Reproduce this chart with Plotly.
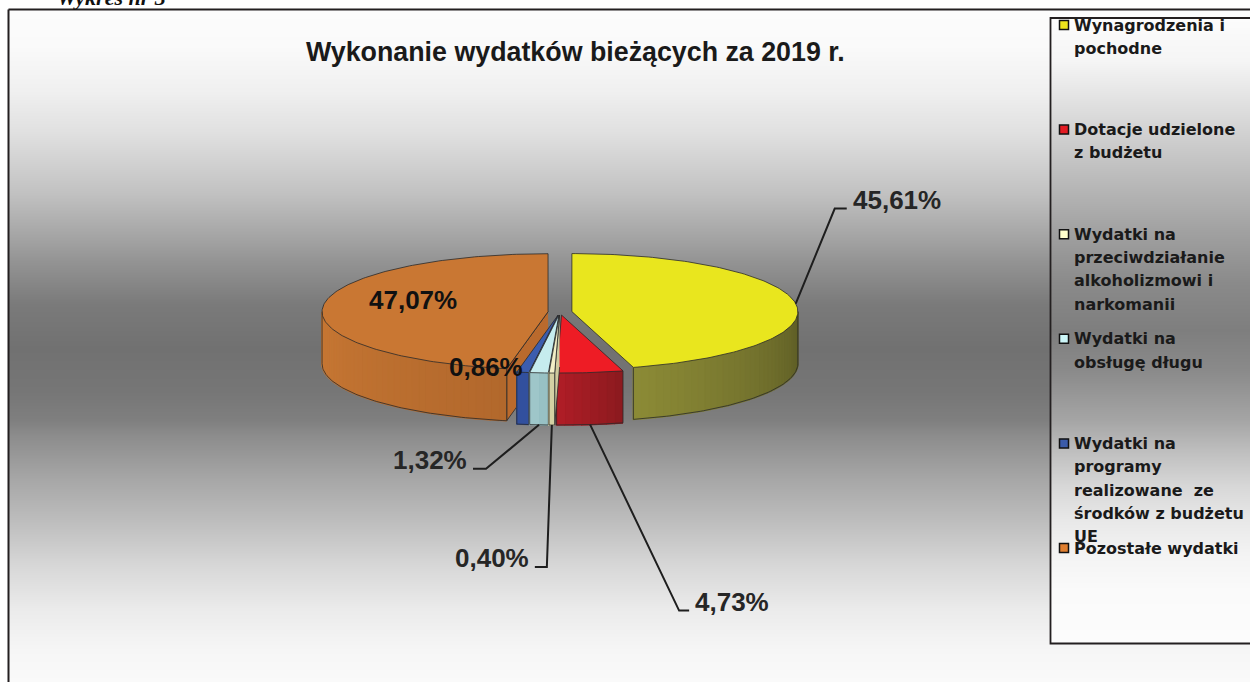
import numpy as np
import plotly.graph_objects as go

# ---------------- data ----------------
categories = [
    "Wynagrodzenia i pochodne",
    "Dotacje udzielone z budżetu",
    "Wydatki na przeciwdziałanie alkoholizmowi i narkomanii",
    "Wydatki na obsługę długu",
    "Wydatki na programy realizowane  ze środków z budżetu UE",
    "Pozostałe wydatki",
]
legend_lines = [
    ["Wynagrodzenia i", "pochodne"],
    ["Dotacje udzielone", "z budżetu"],
    ["Wydatki na", "przeciwdziałanie", "alkoholizmowi i", "narkomanii"],
    ["Wydatki na", "obsługę długu"],
    ["Wydatki na", "programy", "realizowane\u00a0 ze", "środków z budżetu", "UE"],
    ["Pozostałe wydatki"],
]
values = [45.61, 4.73, 0.40, 1.32, 0.86, 47.07]
value_labels = ["45,61%", "4,73%", "0,40%", "1,32%", "0,86%", "47,07%"]
title_text = "Wykonanie wydatków bieżących za 2019 r."

# ---------------- style ----------------
top_colors = ["#E9E61E", "#EE1C25", "#F2EFC6", "#C6ECEE", "#3C5DAE", "#C97733"]
wall_left = ["#8C8B36", "#B01D26", "#D8D5A8", "#A0C8CB", "#3555A5", "#C87834"]
wall_right = ["#5C5B25", "#8B1A1F", "#D0CDA0", "#96BFC2", "#2F4C98", "#B2682C"]
face_colors = ["#6E6D2C", "#9A1B21", "#CFCB9E", "#92BABD", "#2E4A93", "#BA6A2D"]
legend_colors = ["#EDE41C", "#E31B23", "#FFFFCC", "#CCF6F8", "#3B5BA9", "#E07F30"]
outline = "#2A2A2A"

CX, CY, A, B, DEPTH, EXPLODE = 560.0, 312.0, 226.0, 58.0, 52.0, 12.0

bg_y = [10, 45, 90, 130, 165, 195, 243, 260, 304, 348, 391, 420, 435, 478, 522, 565, 609, 650, 682]
bg_g = [252, 250, 240, 225, 208, 192, 160, 148, 122, 113, 118, 127, 140, 166, 190, 215, 235, 246, 250]
lg_y = [18, 60, 100, 167, 233, 283, 330, 370, 420, 453, 487, 520, 553, 590, 643]
lg_g = [252, 245, 226, 192, 160, 138, 126, 138, 165, 192, 216, 232, 243, 250, 252]

# label leader styles: anchor kind, elbow/end offsets (px) relative to anchor
label_style = [
    dict(kind="top", elbow=(39, -95), end=(51, -95), side="right"),
    dict(kind="bottom", elbow=(89, 186), end=(99, 186), side="right"),
    dict(kind="bottom", elbow=(-5, 142), end=(-17, 142), side="left"),
    dict(kind="bottom", elbow=(-53, 44), end=(-66, 44), side="left"),
    dict(kind="inside", frac=1.0, offset=(-37, -5)),
    dict(kind="inside", frac=0.6, offset=(0, -9)),
]

fig = go.Figure()

# ---------------- backgrounds ----------------
gray_scale = [[0, "rgb(0,0,0)"], [1, "rgb(255,255,255)"]]
fig.add_trace(go.Heatmap(x=[0, 1], y=bg_y, z=[[g, g] for g in bg_g], colorscale=gray_scale,
                         zmin=0, zmax=255, zsmooth="best", showscale=False, hoverinfo="skip",
                         xaxis="x", yaxis="y"))
fig.add_trace(go.Heatmap(x=[0, 1], y=lg_y, z=[[g, g] for g in lg_g], colorscale=gray_scale,
                         zmin=0, zmax=255, zsmooth="best", showscale=False, hoverinfo="skip",
                         xaxis="x2", yaxis="y2"))


def hex2rgb(h):
    h = h.lstrip("#")
    return np.array([int(h[i:i + 2], 16) for i in (0, 2, 4)], dtype=float)


def mix(c1, c2, f):
    c = hex2rgb(c1) * (1 - f) + hex2rgb(c2) * f
    return "rgb(%d,%d,%d)" % tuple(np.round(c))


def poly(xs, ys, fill, line_color=None, lw=0.8):
    fig.add_trace(go.Scatter(x=list(xs), y=list(ys), fill="toself", fillcolor=fill, mode="lines",
                             line=dict(color=line_color or fill, width=lw),
                             xaxis="x3", yaxis="y3", hoverinfo="skip", showlegend=False))


def line(xs, ys, color=outline, lw=0.8):
    fig.add_trace(go.Scatter(x=list(xs), y=list(ys), mode="lines", line=dict(color=color, width=lw),
                             xaxis="x3", yaxis="y3", hoverinfo="skip", showlegend=False))


total = sum(values)
ang = np.concatenate([[0], np.cumsum(values) / total * 360.0])
slices = []
for i, v in enumerate(values):
    t0, t1 = ang[i], ang[i + 1]
    mid = (t0 + t1) / 2
    ox = EXPLODE * np.sin(np.radians(mid))
    oy = -EXPLODE * np.cos(np.radians(mid)) * B / A
    slices.append(dict(i=i, t0=t0, t1=t1, mid=mid, ox=ox, oy=oy))


def pt(s, theta, dz=0.0, r=1.0):
    t = np.radians(theta)
    return (CX + s["ox"] + r * A * np.sin(t), CY + s["oy"] - r * B * np.cos(t) + dz)


def arc(s, a0, a1, dz=0.0):
    n = max(2, int(abs(a1 - a0) / 1.0) + 2)
    th = np.linspace(a0, a1, n)
    xs, ys = zip(*[pt(s, t, dz) for t in th])
    return list(xs), list(ys)


# draw back to front
order = sorted(slices, key=lambda s: -np.cos(np.radians(s["mid"])))
for s in order:
    i = s["i"]
    apex = (CX + s["ox"], CY + s["oy"])
    # visible radial cut face (left-front side)
    if 180 < s["t0"] <= 270:
        p = pt(s, s["t0"])
        poly([apex[0], p[0], p[0], apex[0]], [apex[1], p[1], p[1] + DEPTH, apex[1] + DEPTH],
             face_colors[i], outline)
    # outer wall (front half)
    w0, w1 = max(s["t0"], 90), min(s["t1"], 270)
    if w1 > w0:
        n = max(1, int((w1 - w0) / 2.0))
        edges = np.linspace(w0, w1, n + 1)
        for k in range(n):
            f = (edges[k] + edges[k + 1]) / 2
            frac = (f - w0) / (w1 - w0) if w1 > w0 else 0
            col = mix(wall_right[i], wall_left[i], frac)
            tx, ty = arc(s, edges[k], edges[k + 1])
            bx, by = arc(s, edges[k + 1], edges[k], DEPTH)
            poly(tx + bx, ty + by, col, col, 1.6)
        tx, ty = arc(s, w0, w1)
        bx, by = arc(s, w1, w0, DEPTH)
        line(bx, by, outline, 0.8)
        line([tx[0], tx[0]], [ty[0], ty[0] + DEPTH])
        line([tx[-1], tx[-1]], [ty[-1], ty[-1] + DEPTH])
    # top face
    ax_, ay_ = arc(s, s["t0"], s["t1"])
    poly([apex[0]] + ax_ + [apex[0]], [apex[1]] + ay_ + [apex[1]], top_colors[i], outline, 0.8)

# ---------------- value labels with leader lines ----------------
lab_font = dict(family="Liberation Sans, Arial", size=26, color="#262626", weight="bold")
for s, st, txt in zip(slices, label_style, value_labels):
    if st["kind"] == "inside":
        apex = (CX + s["ox"], CY + s["oy"])
        p = pt(s, s["mid"])
        fx = apex[0] + st["frac"] * (p[0] - apex[0]) + st["offset"][0]
        fy = apex[1] + st["frac"] * (p[1] - apex[1]) + st["offset"][1]
        fig.add_annotation(x=fx, y=fy, xref="x3", yref="y3", text=txt, showarrow=False,
                           xanchor="center", yanchor="middle",
                           font=dict(lab_font, color="#111111"))
        continue
    if st["kind"] == "top":
        p = pt(s, s["mid"])
    else:
        p = pt(s, s["mid"], DEPTH)
    e = (p[0] + st["elbow"][0], p[1] + st["elbow"][1])
    q = (p[0] + st["end"][0], p[1] + st["end"][1])
    line([p[0], e[0], q[0]], [p[1], e[1], q[1]], "#1E1E1E", 2)
    if st["side"] == "right":
        fig.add_annotation(x=q[0] + 4, y=q[1] - 9, xref="x3", yref="y3", text=txt, showarrow=False,
                           xanchor="left", yanchor="middle", font=lab_font)
    else:
        fig.add_annotation(x=q[0] - 4, y=q[1] - 9, xref="x3", yref="y3", text=txt, showarrow=False,
                           xanchor="right", yanchor="middle", font=lab_font)

# ---------------- legend ----------------
LEG_X, LEG_TOP, LEG_GAP, LINE_GAP = 1072, 25, 104.6, 23.3
leg_font = dict(family="DejaVu Sans", size=16, color="#1A1A1A", weight="bold")
for k, lines in enumerate(legend_lines):
    y0 = LEG_TOP + k * LEG_GAP
    fig.add_trace(go.Scatter(x=[LEG_X - 8], y=[y0], mode="markers", xaxis="x3", yaxis="y3",
                             marker=dict(symbol="square", size=9, color=legend_colors[k],
                                         line=dict(color="#111111", width=1.5)),
                             hoverinfo="skip", showlegend=False))
    for j, ln in enumerate(lines):
        fig.add_annotation(x=LEG_X, y=y0 + j * LINE_GAP, xref="x3", yref="y3", text=ln,
                           showarrow=False, xanchor="left", yanchor="middle", font=leg_font)

# ---------------- title & frame ----------------
fig.add_annotation(x=575, y=52, xref="x3", yref="y3", text=title_text, showarrow=False,
                   xanchor="center", yanchor="middle",
                   font=dict(family="Liberation Sans, Arial", size=26.8, color="#1A1A1A", weight="bold"))
fig.add_annotation(x=55 / 1250, y=1 + 3 / 682, xref="paper", yref="paper", text="<i>Wykres nr 3</i>",
                   showarrow=False, xanchor="left", yanchor="middle",
                   font=dict(family="Liberation Serif", size=22, color="#111111", weight="bold"))

frame = dict(color="#231F20", width=2)
fig.add_shape(type="line", x0=8.5, y0=9.5, x1=1260, y1=9.5, xref="x3", yref="y3", line=frame)
fig.add_shape(type="line", x0=8.5, y0=9.5, x1=8.5, y1=700, xref="x3", yref="y3", line=frame)
fig.add_shape(type="rect", x0=1050.5, y0=18, x1=1270, y1=643.5, xref="x3", yref="y3",
              line=dict(color="#231F20", width=1.8), fillcolor="rgba(0,0,0,0)")

fig.update_layout(
    width=1250, height=682, margin=dict(l=0, r=0, t=0, b=0),
    paper_bgcolor="white", plot_bgcolor="rgba(0,0,0,0)", showlegend=False,
    xaxis=dict(domain=[8.5 / 1250, 1], range=[0, 1], visible=False, fixedrange=True, anchor="y"),
    yaxis=dict(domain=[0, 1 - 10 / 682], range=[682, 10], visible=False, fixedrange=True, anchor="x"),
    xaxis2=dict(domain=[1051 / 1250, 1], range=[0, 1], visible=False, fixedrange=True, anchor="y2"),
    yaxis2=dict(domain=[(682 - 643) / 682, (682 - 18) / 682], range=[643, 18], visible=False,
                fixedrange=True, anchor="x2"),
    xaxis3=dict(domain=[0, 1], range=[0, 1250], visible=False, fixedrange=True, anchor="y3"),
    yaxis3=dict(domain=[0, 1], range=[682, 0], visible=False, fixedrange=True, anchor="x3"),
)

fig.write_html("out.html", config={"displayModeBar": False})
